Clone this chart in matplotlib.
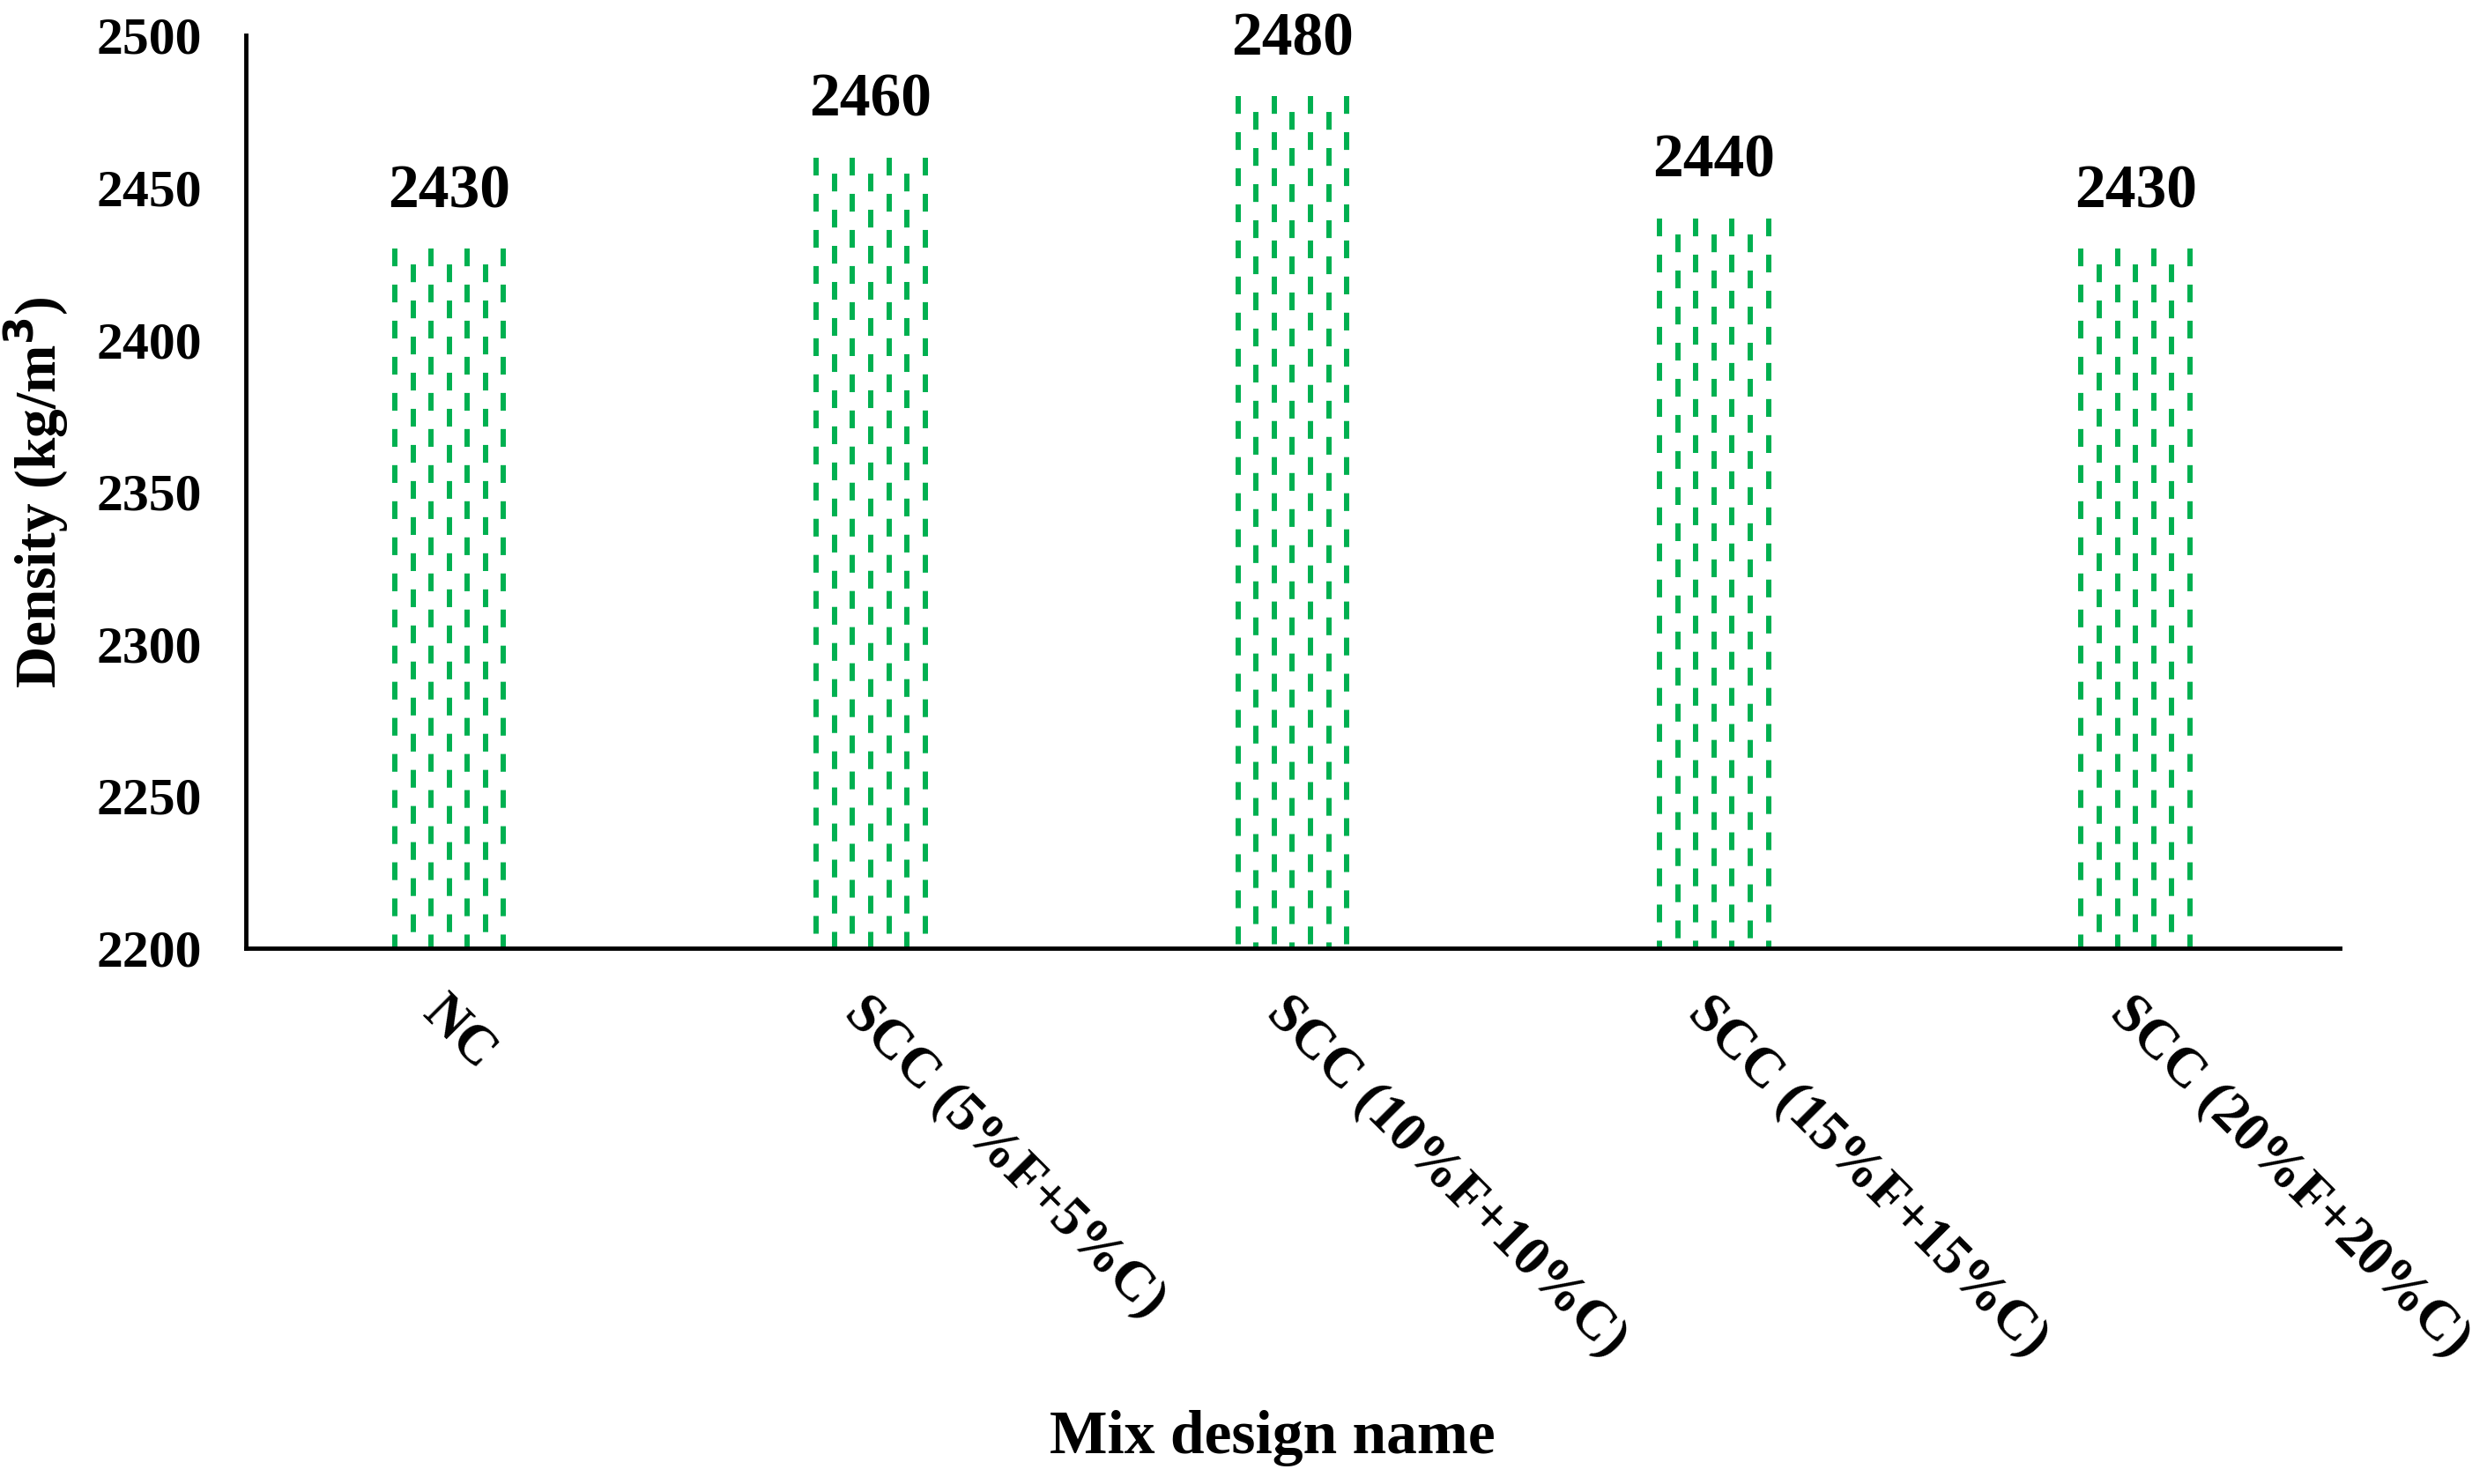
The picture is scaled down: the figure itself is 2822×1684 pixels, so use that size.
import numpy as np
import matplotlib
matplotlib.use('Agg')
import matplotlib.pyplot as plt

# data
mixes = ['NC', 'SCC (5%F+5%C)', 'SCC (10%F+10%C)', 'SCC (15%F+15%C)', 'SCC (20%F+20%C)']
density = [2430, 2460, 2480, 2440, 2430]
yticks = [2200, 2250, 2300, 2350, 2400, 2450, 2500]

green = '#00B050'
plt.rcParams['font.family'] = ['Liberation Serif', 'DejaVu Serif']
plt.rcParams['font.weight'] = 'bold'
plt.rcParams['lines.scale_dashes'] = False

fig = plt.figure(figsize=(28.22, 16.84), dpi=100)
ax = fig.add_axes([0.0989, 0.361, 0.8420, 0.615])

x = np.arange(len(mixes))
bars = ax.bar(x, density, width=0.27, color='none', edgecolor='none')
ax.set_ylim(2200, 2500)
ax.set_xlim(-0.482, 4.485)

# bars are filled with staggered green dashed vertical lines
ymin = ax.get_ylim()[0]
for b in bars:
    left = b.get_x()
    w = b.get_width()
    top = b.get_height()
    xs = np.linspace(left + 0.006, left + w - 0.006, 7)
    for k, xl in enumerate(xs):
        off = 0 if k % 2 == 0 else 16.5
        ax.plot([xl, xl], [top, ymin], color=green, lw=4.3,
                linestyle=(off, (14.5, 15.0)), solid_capstyle='butt',
                dash_capstyle='butt', clip_on=True)

for b, v in zip(bars, density):
    ax.annotate(str(v), (b.get_x() + b.get_width() / 2, v),
                xytext=(0, 23), textcoords='offset points',
                ha='center', va='bottom', fontsize=50, fontweight='bold')

for s in ['top', 'right']:
    ax.spines[s].set_visible(False)
for s in ['left', 'bottom']:
    ax.spines[s].set_linewidth(3.5)
    ax.spines[s].set_color('black')

ax.set_yticks(yticks)
ax.set_yticklabels([str(t) for t in yticks], fontsize=43, fontweight='bold')
ax.tick_params(axis='y', length=0, pad=36)
ax.set_xticks(x)
ax.set_xticklabels(mixes, fontsize=45, fontweight='bold', rotation=-45,
                   ha='left', va='top', rotation_mode='anchor')
ax.tick_params(axis='x', length=0, pad=32)

ax.set_ylabel('Density (kg/m$^\\mathbf{3}$)', fontsize=47, fontweight='bold', va='center')
ax.yaxis.set_label_coords(-0.1, 0.5)
ax.set_xlabel('Mix design name', fontsize=50, fontweight='bold', va='center')
ax.xaxis.set_label_coords(0.49, -0.537)

fig.savefig('out.png', dpi=100)
